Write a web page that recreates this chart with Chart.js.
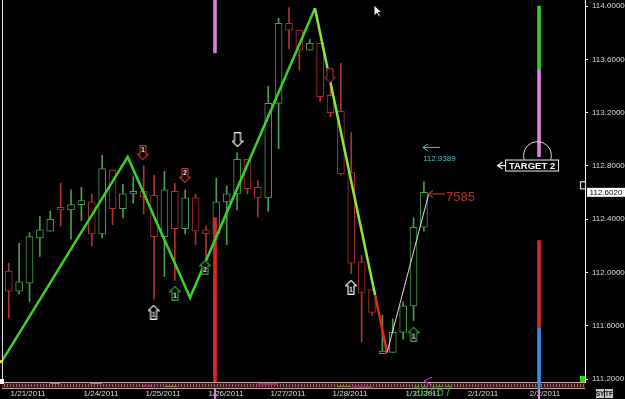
<!DOCTYPE html>
<html lang="en">
<head>
<meta charset="UTF-8">
<title>USD/JPY 4H zigzag</title>
<script src="https://cdn.jsdelivr.net/npm/chart.js"></script>
<style>
  html, body { margin: 0; padding: 0; background: #000; }
</style>
</head>
<body>
<canvas id="myChart" width="625" height="399"></canvas>
<script>
// candle slots (one per 4h bar)
const slots  = [0,1,2,3,4,5,6,7,8,9,10,11,12,13,14,15,16,17,18,19,20,21,22,23,24,25,26,27,28,29,30,31,32,33,34,35,36,37,38,39,40];
const opens  = [112.01,111.86,111.92,112.26,112.31,112.49,112.47,112.51,112.53,112.29,112.77,112.48,112.59,112.61,112.58,112.27,112.61,112.33,112.56,112.32,112.29,112.53,112.59,112.85,112.64,112.56,113.27,113.87,113.82,113.67,113.72,113.33,113.21,112.75,112.08,111.87,111.39,111.40,111.55,111.75,112.34];
const highs  = [112.07,112.22,112.30,112.42,112.46,112.67,112.62,112.64,112.59,112.88,112.77,112.66,112.72,112.80,112.73,112.76,112.67,112.62,112.59,112.35,112.71,112.65,112.90,112.85,112.69,113.40,113.91,113.99,113.82,113.75,113.72,113.39,113.57,113.05,112.13,111.87,111.68,111.65,111.78,112.41,112.68];
const lows   = [111.66,111.84,111.78,112.12,112.31,112.35,112.25,112.39,112.20,112.26,112.36,112.41,112.52,112.44,111.80,111.97,111.94,112.29,112.21,112.09,112.25,112.21,112.47,112.59,112.42,112.46,112.93,113.68,113.52,113.67,113.28,113.17,112.73,111.99,111.48,111.68,111.39,111.40,111.50,111.64,112.31];
const closes = [111.86,111.93,112.27,112.32,112.40,112.47,112.51,112.54,112.29,112.78,112.48,112.59,112.61,112.57,112.27,112.62,112.33,112.56,112.31,112.29,112.53,112.59,112.85,112.63,112.56,113.27,113.87,113.82,113.67,113.72,113.32,113.20,112.74,112.07,111.85,111.70,111.41,111.55,111.75,112.34,112.602];

const dateLabels  = ['1/21/2011','1/24/2011','1/25/2011','1/26/2011','1/27/2011','1/28/2011','1/31/2011','2/1/2011','2/2/2011'];
const dateTickPos = [1.86, 8.89, 14.87, 20.93, 26.91, 32.88, 39.91, 45.69, 51.67];
const priceTicks  = [111.2, 111.6, 112.0, 112.4, 112.8, 113.2, 113.6, 114.0];

// zigzag swings
const zigzagX = [-0.65, 11.46, 17.47, 29.5, 35.3, 36.45];
const zigzagY = [111.335, 112.868, 111.812, 113.984, 111.83, 111.399];
const legX = [36.45, 40.49];
const legY = [111.399, 112.597];

// vertical level bars
const levelX  = [19.87, 19.87, 51.09, 51.09, 51.09, 51.09];
const levelLo = [113.65, 111.178, 113.52, 112.87, 111.58, 111.178];
const levelHi = [114.05, 112.41, 114.0, 113.52, 112.24, 111.58];

// arrow markers
const markerX     = [12.94, 16.98, 13.95, 16.02, 18.91, 22.04, 30.95, 32.98, 39.0];
const markerY     = [112.900, 112.728, 111.702, 111.844, 112.039, 112.998, 113.477, 111.889, 111.537];
const markerLabel = ['1', '2', '1', '1', '2', '', '', '1', '1'];

const targetX = [50.94];
const targetY = [112.878];
const cursorX = [35.58];
const cursorY = [113.964];

const GREEN = '#4aa04a', RED = '#b03232';

function makeArrow(up, color, label) {
  const c = document.createElement('canvas');
  c.width = 12; c.height = 15;
  const g = c.getContext('2d');
  g.strokeStyle = color; g.lineWidth = 1.2; g.fillStyle = '#000';
  g.beginPath();
  if (up) {
    g.moveTo(6, 0.6); g.lineTo(11.4, 6); g.lineTo(9, 6); g.lineTo(9, 14.4);
    g.lineTo(3, 14.4); g.lineTo(3, 6); g.lineTo(0.6, 6);
  } else {
    g.moveTo(6, 14.4); g.lineTo(11.4, 9); g.lineTo(9, 9); g.lineTo(9, 0.6);
    g.lineTo(3, 0.6); g.lineTo(3, 9); g.lineTo(0.6, 9);
  }
  g.closePath(); g.fill(); g.stroke();
  if (label) {
    g.fillStyle = '#f0f0f0'; g.font = 'bold 7px Arial';
    g.textAlign = 'center'; g.textBaseline = 'middle';
    g.fillText(label, 6, up ? 10 : 5);
  }
  return c;
}

function makeCursor() {
  const c = document.createElement('canvas');
  c.width = 10; c.height = 14;
  const g = c.getContext('2d');
  g.fillStyle = '#fff'; g.strokeStyle = '#000'; g.lineWidth = 1;
  g.beginPath();
  g.moveTo(1, 1); g.lineTo(1, 12); g.lineTo(3.8, 9.4); g.lineTo(5.8, 13.2);
  g.lineTo(7.4, 12.4); g.lineTo(5.4, 8.6); g.lineTo(9, 8.6); g.closePath();
  g.fill(); g.stroke();
  return c;
}

const markerStyles = [
  makeArrow(false, '#c03030', markerLabel[0]),
  makeArrow(false, '#c03030', markerLabel[1]),
  makeArrow(true, '#f0f0f0', markerLabel[2]),
  makeArrow(true, '#3c9a3c', markerLabel[3]),
  makeArrow(true, '#3c9a3c', markerLabel[4]),
  makeArrow(false, '#f0f0f0', markerLabel[5]),
  makeArrow(false, '#8a2a2a', markerLabel[6]),
  makeArrow(true, '#f0f0f0', markerLabel[7]),
  makeArrow(true, '#3c9a3c', markerLabel[8])
];

const candleColors = slots.map(i => closes[i] >= opens[i] ? GREEN : RED);

function leftArrow(ctx, x0, yy, len, color, w) {
  ctx.strokeStyle = color; ctx.lineWidth = w;
  ctx.beginPath();
  ctx.moveTo(x0 + len, yy); ctx.lineTo(x0, yy);
  ctx.moveTo(x0 + 5, yy - 3.5); ctx.lineTo(x0, yy); ctx.lineTo(x0 + 5, yy + 3.5);
  ctx.stroke();
}

const overlay = {
  id: 'overlay',
  beforeDraw(chart) {
    const c = chart.ctx;
    c.save(); c.fillStyle = '#000'; c.fillRect(0, 0, chart.width, chart.height); c.restore();
  },
  afterDraw(chart) {
    const {ctx, chartArea: a, scales: {x, y}} = chart;
    ctx.save();
    // left frame
    ctx.fillStyle = '#dcdcdc';
    ctx.fillRect(a.left, a.top, 1, a.bottom - a.top);
    // bottom strip
    const sy = a.bottom;
    ctx.fillStyle = '#3b1c1c'; ctx.fillRect(a.left, sy, a.right - a.left, 7);
    ctx.fillStyle = '#c9a3a3';
    ctx.fillRect(a.left, sy, a.right - a.left, 1);
    ctx.fillRect(a.left, sy + 6, a.right - a.left, 1);
    ctx.fillStyle = '#9a6a6a';
    for (let px = a.left + 2; px < a.right; px += 3) ctx.fillRect(px, sy + 2, 1, 3);
    ctx.fillStyle = '#8a8a30';
    ctx.fillRect(50, sy + 1, 10, 1); ctx.fillRect(90, sy + 1, 12, 1); ctx.fillRect(165, sy + 4, 12, 1);
    ctx.fillRect(260, sy + 1, 14, 1); ctx.fillRect(337, sy + 4, 14, 1);
    ctx.fillStyle = '#9a2a6a';
    ctx.fillRect(143, sy + 3, 8, 2); ctx.fillRect(258, sy + 1, 20, 2); ctx.fillRect(352, sy + 4, 20, 2);
    // level bar extensions into the date row
    ctx.fillStyle = '#d884d8';
    ctx.fillRect(x.getPixelForValue(levelX[0]) - 1, sy + 7, 2, chart.height - sy - 7);
    ctx.fillRect(x.getPixelForValue(levelX[2]) - 1, sy + 7, 2, chart.height - sy - 7);
    ctx.fillStyle = '#3c8ee0';
    ctx.fillRect(x.getPixelForValue(levelX[5]) - 1.5, sy, 3, 7);

    // cyan level label
    let xa = x.getPixelForValue(39.9), ya = y.getPixelForValue(112.9389);
    leftArrow(ctx, xa, ya, 17, '#4cc4c4', 1);
    ctx.fillStyle = '#4cc4c4'; ctx.font = '8px Arial';
    ctx.textAlign = 'left'; ctx.textBaseline = 'middle';
    ctx.fillText('112.9389', xa, ya + 11);

    // red count label
    xa = x.getPixelForValue(40.39); ya = y.getPixelForValue(112.59);
    leftArrow(ctx, xa, ya, 17, '#b03030', 1.2);
    ctx.fillStyle = '#b03030'; ctx.font = '13px Arial';
    ctx.fillText('7585', xa + 18, ya + 3);

    // TARGET 2 box
    const bx = x.getPixelForValue(50.37), by = y.getPixelForValue(112.807);
    ctx.fillStyle = '#000'; ctx.fillRect(bx - 26.5, by - 5.5, 53, 11);
    ctx.strokeStyle = '#f0f0f0'; ctx.lineWidth = 1;
    ctx.strokeRect(bx - 26, by - 5, 53, 11);
    ctx.fillStyle = '#ffffff'; ctx.font = 'bold 9.5px Arial'; ctx.textAlign = 'center';
    ctx.fillText('TARGET 2', bx + 0.5, by + 1);
    leftArrow(ctx, bx - 34, by + 0.5, 8, '#f0f0f0', 1.2);

    // current price box on the axis
    const py = y.getPixelForValue(closes[closes.length - 1]);
    ctx.fillStyle = '#ffffff'; ctx.fillRect(a.right + 2, py - 4.5, 38, 9);
    ctx.fillStyle = '#000'; ctx.font = '8px Arial'; ctx.textAlign = 'center';
    ctx.fillText(closes[closes.length - 1].toFixed(4), a.right + 21, py + 0.5);
    ctx.strokeStyle = '#e0e0e0'; ctx.strokeRect(a.right - 4.5, py - 10.5, 5, 7);

    // green marker square
    ctx.fillStyle = '#22dd22'; ctx.fillRect(a.right - 5, a.bottom - 6, 5, 6);
    // corner bits
    ctx.fillStyle = '#ffffff'; ctx.fillRect(0, a.bottom - 3, 4, 5);
    ctx.fillStyle = '#e8e020'; ctx.fillRect(0, y.getPixelForValue(zigzagY[0]) - 1, 3, 3);

    // timer text near 1/31
    ctx.fillStyle = 'rgba(60,170,60,0.85)'; ctx.font = '14px Arial'; ctx.textAlign = 'left';
    ctx.fillText('20457', 413, 392);
    ctx.strokeStyle = '#c040c0'; ctx.lineWidth = 1;
    ctx.beginPath(); ctx.moveTo(432, 377); ctx.lineTo(424, 381); ctx.lineTo(432, 385); ctx.stroke();

    // SY / TF buttons
    ctx.fillStyle = '#c4c4c4'; ctx.fillRect(596, 389, 8, 9); ctx.fillRect(605, 389, 8, 9);
    ctx.fillStyle = '#111'; ctx.font = 'bold 6.5px Arial'; ctx.textAlign = 'center';
    ctx.fillText('SY', 600, 394); ctx.fillText('TF', 609, 394);
    ctx.restore();
  }
};

Chart.defaults.font.family = 'Arial';

new Chart(document.getElementById('myChart'), {
  type: 'bar',
  data: {
    datasets: [
      {
        type: 'line', order: 0, showLine: false,
        data: markerX.map((v, i) => ({x: v, y: markerY[i]})),
        pointStyle: markerStyles, pointRadius: 5
      },
      {
        type: 'line', order: 0, showLine: false,
        data: cursorX.map((v, i) => ({x: v, y: cursorY[i]})),
        pointStyle: makeCursor(), pointRadius: 5
      },
      {
        type: 'line', order: 1,
        data: legX.map((v, i) => ({x: v, y: legY[i]})),
        borderColor: '#e8dce8', borderWidth: 1, pointRadius: 0
      },
      {
        type: 'line', order: 2,
        data: zigzagX.map((v, i) => ({x: v, y: zigzagY[i]})),
        borderColor: '#3cd228', borderWidth: 2.5, pointRadius: 0,
        segment: {
          borderColor: c => ['#3cd228', '#3cd228', '#3cd228', '#8ee838', '#e02a1a'][c.p0DataIndex]
        }
      },
      {
        type: 'line', order: 1, showLine: false,
        data: targetX.map((v, i) => ({x: v, y: targetY[i]})),
        pointStyle: 'circle', pointRadius: 14,
        borderColor: '#d8d8d8', borderWidth: 1, backgroundColor: 'rgba(0,0,0,0)'
      },
      {
        order: 5, grouped: false, barThickness: 3,
        data: levelX.map((v, i) => ({x: v, y: [levelLo[i], levelHi[i]]})),
        backgroundColor: ['#d884d8', '#e02424', '#33cc33', '#d884d8', '#d42a2a', '#3c8ee0'],
        borderWidth: 0
      },
      {
        order: 6, grouped: false, barThickness: 7,
        data: slots.map(i => ({x: i, y: [opens[i], closes[i]]})),
        backgroundColor: '#000', borderColor: candleColors,
        borderWidth: 1, borderSkipped: false
      },
      {
        order: 7, grouped: false, barThickness: 1,
        data: slots.map(i => ({x: i, y: [lows[i], highs[i]]})),
        backgroundColor: candleColors, borderWidth: 0
      }
    ]
  },
  options: {
    responsive: false,
    animation: false,
    events: [],
    layout: { autoPadding: false, padding: { left: 2, top: 0, right: 0, bottom: 0 } },
    plugins: { legend: { display: false }, tooltip: { enabled: false } },
    scales: {
      x: {
        type: 'linear', offset: false, min: -0.65, max: 55.52,
        afterBuildTicks: s => { s.ticks = dateTickPos.map(v => ({value: v})); },
        afterFit: s => { s.height = 17; s.paddingLeft = 0; s.paddingRight = 0; },
        ticks: {
          color: '#dcdcdc', font: { size: 8 }, padding: 7,
          maxRotation: 0, autoSkip: false,
          callback: (v, i) => dateLabels[i]
        },
        grid: { display: false, drawTicks: false, offset: false },
        border: { display: false }
      },
      y: {
        position: 'right', stacked: false, min: 111.178, max: 114.046,
        afterBuildTicks: s => { s.ticks = priceTicks.map(v => ({value: v})); },
        afterFit: s => { s.width = 40; s.paddingTop = 0; s.paddingBottom = 0; },
        ticks: {
          color: '#dcdcdc', font: { size: 8 }, padding: 4,
          callback: v => Number(v).toFixed(4)
        },
        grid: { drawOnChartArea: false, color: '#ffffff', tickLength: 3 },
        border: { display: true, color: '#ffffff' }
      }
    }
  },
  plugins: [overlay]
});
</script>
</body>
</html>
